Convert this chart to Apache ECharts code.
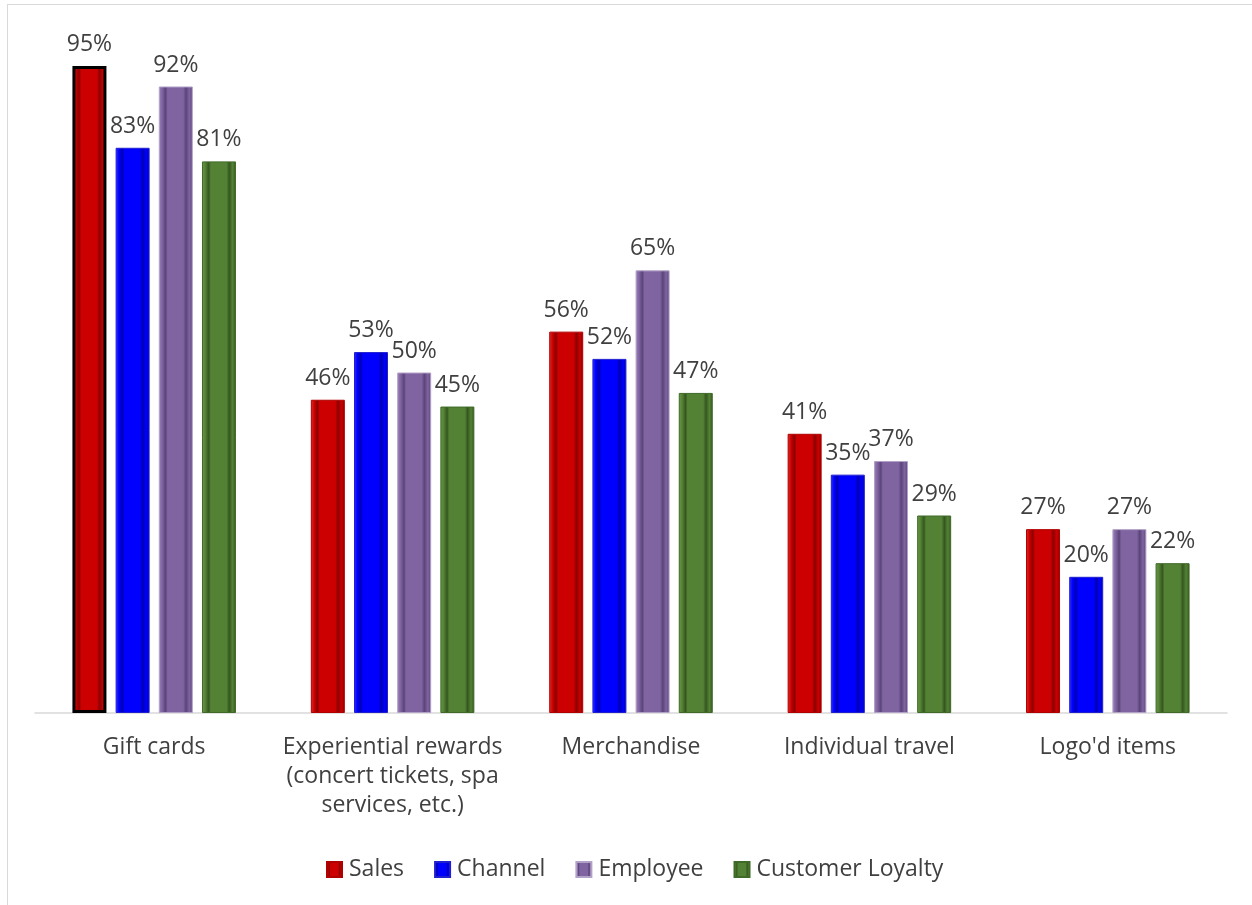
<!DOCTYPE html>
<html>
<head>
<meta charset="utf-8">
<script src="https://cdn.jsdelivr.net/npm/echarts@6/dist/echarts.min.js"></script>
<style>
  html, body { margin: 0; padding: 0; background: #fff; }
  #frame { position: absolute; left: 7px; top: 4px; width: 1260px; height: 920px; border: 1px solid #d9d9d9; box-sizing: border-box; }
  #chart { position: absolute; left: 0; top: 0; width: 1252px; height: 905px; }
</style>
</head>
<body>
<div id="frame"></div>
<div id="chart"></div>
<script>
const categories = [
  'Gift cards',
  'Experiential rewards\n(concert tickets, spa\nservices, etc.)',
  'Merchandise',
  'Individual travel',
  "Logo'd items"
]
const sales = [95, 46, 56, 41, 27]
const channel = [83, 53, 52, 35, 20]
const employee = [92, 50, 65, 37, 27]
const loyalty = [81, 45, 47, 29, 22]

const font = '"Open Sans", "Noto Sans", sans-serif'

// fake bevel: dark inner frame near the edges
const bevel = (base, dark, light) => new echarts.graphic.LinearGradient(0, 0, 1, 0, [
  { offset: 0, color: light },
  { offset: 0.1, color: base },
  { offset: 0.2, color: dark },
  { offset: 0.26, color: base },
  { offset: 0.72, color: base },
  { offset: 0.8, color: dark },
  { offset: 0.9, color: base },
  { offset: 1, color: dark }
])

const makeSeries = (name, data, base, dark, light, edge) => ({
  name: name,
  type: 'bar',
  data: data,
  barWidth: 34,
  barGap: '27%',
  itemStyle: {
    color: bevel(base, dark, light),
    borderColor: edge,
    borderWidth: 1
  },
  label: {
    show: true,
    position: 'top',
    distance: 10,
    formatter: '{c}%',
    color: '#404040',
    fontSize: 23,
    fontFamily: font
  }
})

const series = [
  makeSeries('Sales', sales, '#cc0000', '#8a0000', '#e03030', '#b00000'),
  makeSeries('Channel', channel, '#0000ff', '#0000b0', '#3030ff', '#2020d0'),
  makeSeries('Employee', employee, '#8064a2', '#5a4478', '#9a82b8', '#b3a2c7'),
  makeSeries('Customer Loyalty', loyalty, '#548235', '#34561f', '#6a9a48', '#3f6a28')
]
// the first bar is outlined in black in the original
series[0].data = sales.map((v, i) => i === 0
  ? { value: v, itemStyle: { borderColor: '#000', borderWidth: 3 } }
  : v)

const chart = echarts.init(document.getElementById('chart'))
chart.setOption({
  backgroundColor: 'transparent',
  animation: false,
  grid: { left: 35, right: 25, top: 32, bottom: 192, containLabel: false },
  legend: {
    bottom: 19,
    left: 321,
    itemWidth: 15,
    itemHeight: 15,
    itemGap: 30,
    icon: 'rect',
    textStyle: { color: '#404040', fontSize: 23, fontFamily: font, padding: [0, 0, 0, 2] }
  },
  xAxis: {
    type: 'category',
    data: categories,
    axisLine: { lineStyle: { color: '#d9d9d9', width: 1.5 } },
    axisTick: { show: false },
    axisLabel: {
      color: '#404040',
      fontSize: 23,
      fontFamily: font,
      lineHeight: 29,
      margin: 20,
      interval: 0
    }
  },
  yAxis: {
    type: 'value',
    min: 0,
    max: 100,
    show: false,
    splitLine: { show: false }
  },
  series: series
})
</script>
</body>
</html>
